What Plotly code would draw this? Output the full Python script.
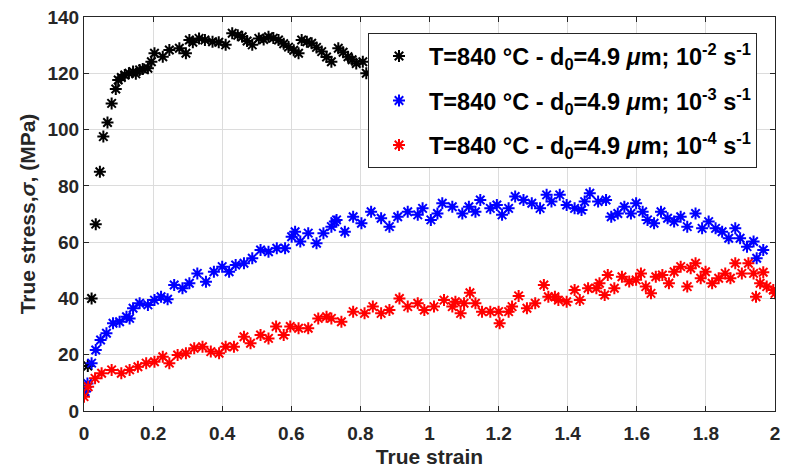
import plotly.graph_objects as go

# True stress-strain data, T = 840 °C, d0 = 4.9 µm, three strain rates
strain_1e2 = [0.0, 0.011, 0.022, 0.034, 0.046, 0.056, 0.068, 0.08, 0.092, 0.099,
              0.108, 0.118, 0.13, 0.142, 0.15, 0.161, 0.17, 0.185, 0.195, 0.204,
              0.228, 0.247, 0.276, 0.295, 0.305, 0.315, 0.333, 0.35, 0.372, 0.39,
              0.41, 0.429, 0.445, 0.458, 0.472, 0.487, 0.506, 0.52, 0.534, 0.548,
              0.563, 0.578, 0.592, 0.607, 0.621, 0.63, 0.645, 0.659, 0.673, 0.688,
              0.702, 0.716, 0.736, 0.75, 0.764, 0.776, 0.788, 0.807, 0.817]
stress_1e2 = [7, 16, 40, 66.4, 85, 97.5, 102.5, 109.3, 114.4, 117.6,
              118.5, 119.4, 120.0, 120.6, 119.8, 121.2, 121.5, 121.8, 124.1, 127.1,
              125.9, 128.3, 128.9, 127.1, 131.8, 131.0, 132.4, 131.8, 131.2, 131.0,
              130.1, 134.2, 133.5, 133.0, 131.5, 130.1, 132.4, 132.0, 133.0, 132.5,
              131.8, 130.5, 129.3, 128.2, 127.1, 131.8, 131.2, 130.7, 129.2, 127.7,
              125.8, 124.1, 128.9, 127.5, 125.9, 124.8, 123.5, 124.1, 120.0]

strain_1e3 = [0.003, 0.01, 0.022, 0.034, 0.048, 0.065, 0.084, 0.103, 0.123, 0.132,
              0.142, 0.161, 0.185, 0.204, 0.223, 0.242, 0.261, 0.285, 0.305, 0.328,
              0.353, 0.376, 0.4, 0.42, 0.439, 0.463, 0.487, 0.511, 0.534, 0.558,
              0.582, 0.601, 0.611, 0.626, 0.649, 0.673, 0.693, 0.716, 0.726, 0.731,
              0.755, 0.779, 0.803, 0.831, 0.86, 0.884, 0.908, 0.937, 0.966, 0.98,
              1.004, 1.023, 1.037, 1.066, 1.095, 1.114, 1.133, 1.147, 1.176, 1.195,
              1.21, 1.229, 1.248, 1.272, 1.296, 1.32, 1.339, 1.353, 1.377, 1.397,
              1.42, 1.44, 1.449, 1.464, 1.488, 1.511, 1.526, 1.545, 1.564, 1.583,
              1.598, 1.617, 1.631, 1.65, 1.67, 1.689, 1.708, 1.727, 1.746, 1.77,
              1.789, 1.808, 1.828, 1.847, 1.866, 1.885, 1.899, 1.919, 1.938, 1.947,
              1.966]
stress_1e3 = [6.9, 9.8, 17.0, 21.7, 25.2, 27.6, 31.2, 31.7, 33.5, 32.9,
              36.5, 38.3, 37.7, 39.4, 40.6, 39.7, 44.8, 43.6, 45.4, 48.9,
              45.9, 49.5, 51.3, 49.5, 51.9, 52.5, 54.3, 57.2, 56.6, 57.8,
              57.8, 61.9, 63.7, 60.2, 63.2, 59.6, 63.2, 65.5, 67.3, 67.9,
              63.7, 69.0, 66.7, 70.8, 68.5, 65.5, 69.0, 70.8, 69.7, 72.0,
              67.9, 70.2, 73.8, 72.6, 70.2, 72.6, 70.8, 75.0, 72.0, 73.2,
              69.7, 72.0, 76.2, 75.0, 73.8, 72.0, 76.8, 74.4, 76.8, 73.2,
              72.0, 71.4, 74.4, 77.4, 74.4, 75.0, 69.0, 70.2, 72.6, 70.2,
              73.8, 70.8, 67.9, 66.7, 70.8, 68.5, 67.3, 69.0, 65.5, 70.2,
              64.9, 67.3, 64.9, 63.7, 61.4, 64.9, 61.4, 58.4, 60.2, 54.3,
              57.2]

strain_1e4 = [0.0, 0.012, 0.032, 0.051, 0.08, 0.108, 0.132, 0.156, 0.18, 0.204,
              0.228, 0.247, 0.271, 0.295, 0.319, 0.343, 0.367, 0.391, 0.41, 0.434,
              0.463, 0.482, 0.511, 0.534, 0.556, 0.578, 0.597, 0.621, 0.649, 0.678,
              0.702, 0.716, 0.745, 0.779, 0.812, 0.836, 0.86, 0.884, 0.913, 0.937,
              0.966, 0.985, 1.013, 1.042, 1.066, 1.075, 1.09, 1.1, 1.117, 1.133,
              1.152, 1.176, 1.2, 1.203, 1.229, 1.239, 1.258, 1.282, 1.306, 1.331,
              1.344, 1.363, 1.373, 1.397, 1.42, 1.435, 1.459, 1.483, 1.492, 1.507,
              1.516, 1.535, 1.557, 1.578, 1.598, 1.612, 1.626, 1.641, 1.655, 1.674,
              1.693, 1.708, 1.727, 1.746, 1.756, 1.77, 1.785, 1.799, 1.818, 1.837,
              1.856, 1.871, 1.885, 1.904, 1.923, 1.938, 1.945, 1.957, 1.966, 1.976,
              1.995, 2.0]
stress_1e4 = [5.1, 8.6, 11.6, 13.4, 14.6, 13.4, 14.6, 15.7, 17.0, 17.5,
              19.3, 17.0, 19.9, 20.5, 22.3, 22.8, 21.1, 20.5, 22.8, 22.8,
              26.4, 24.1, 27.0, 25.8, 30.0, 27.0, 30.0, 29.4, 29.4, 32.9,
              33.5, 32.9, 31.7, 35.3, 34.7, 37.1, 34.7, 35.9, 40.0, 37.1,
              38.3, 35.9, 37.1, 39.4, 37.1, 38.8, 34.7, 38.3, 42.0, 38.3,
              35.3, 35.3, 35.3, 31.2, 35.3, 37.1, 40.9, 36.5, 38.3, 44.8,
              40.6, 40.6, 39.4, 38.8, 43.0, 39.4, 43.6, 43.6, 45.4, 41.2,
              48.3, 43.6, 47.7, 46.0, 46.6, 48.9, 44.2, 41.8, 47.7, 48.3,
              45.4, 49.5, 51.3, 44.2, 50.7, 52.5, 47.2, 49.5, 45.4, 47.2,
              48.9, 47.2, 52.5, 48.9, 52.5, 48.9, 40.6, 45.4, 49.3, 44.2,
              43.0, 41.8]

series = [
    (strain_1e2, stress_1e2, "#000000",
     "T=840 °C - d<sub>0</sub>=4.9 <i>μ</i>m; 10<sup>-2</sup> s<sup>-1</sup>"),
    (strain_1e3, stress_1e3, "#0000ff",
     "T=840 °C - d<sub>0</sub>=4.9 <i>μ</i>m; 10<sup>-3</sup> s<sup>-1</sup>"),
    (strain_1e4, stress_1e4, "#ff0000",
     "T=840 °C - d<sub>0</sub>=4.9 <i>μ</i>m; 10<sup>-4</sup> s<sup>-1</sup>"),
]

FONT = "Liberation Sans, Arial, sans-serif"

fig = go.Figure()
for i, (x, y, color, name) in enumerate(series):
    fig.add_trace(go.Scatter(
        x=x, y=y, mode="markers", name="<b>" + name + "</b>", legendgroup=f"g{i}",
        marker=dict(symbol="asterisk-open", size=10, color=color,
                    line=dict(color=color, width=2)),
    ))

common = dict(
    showline=True, linecolor="#262626", linewidth=1, mirror="ticks",
    ticks="inside", ticklen=5, tickcolor="#262626",
    showgrid=True, gridcolor="#dcdcdc", gridwidth=1, zeroline=False,
    tickfont=dict(family=FONT, size=19, color="#262626"),
    tickprefix="<b>", ticksuffix="</b>",
)

fig.update_layout(
    width=787, height=474,
    margin=dict(l=84, r=7, t=17, b=63),
    paper_bgcolor="white", plot_bgcolor="white",
    font=dict(family=FONT, color="#000000"),
    xaxis=dict(range=[0, 2], dtick=0.2, tickformat="~g", ticklabelstandoff=5,
               title=dict(text="<b>True strain</b>", font=dict(size=21, color="#262626"), standoff=6),
               **common),
    yaxis=dict(range=[0, 140], dtick=20,
               title=dict(text="<b>True stress,<i>σ</i>, (MPa)</b>", font=dict(size=21, color="#262626"), standoff=6),
               **common),
    legend=dict(
        x=0.411, y=0.959, xanchor="left", yanchor="top",
        bgcolor="white", bordercolor="#262626", borderwidth=1,
        font=dict(size=23.5, family=FONT, color="#000000"),
        itemwidth=50, tracegroupgap=11, traceorder="grouped",
    ),
)

fig.write_html("out.html")
